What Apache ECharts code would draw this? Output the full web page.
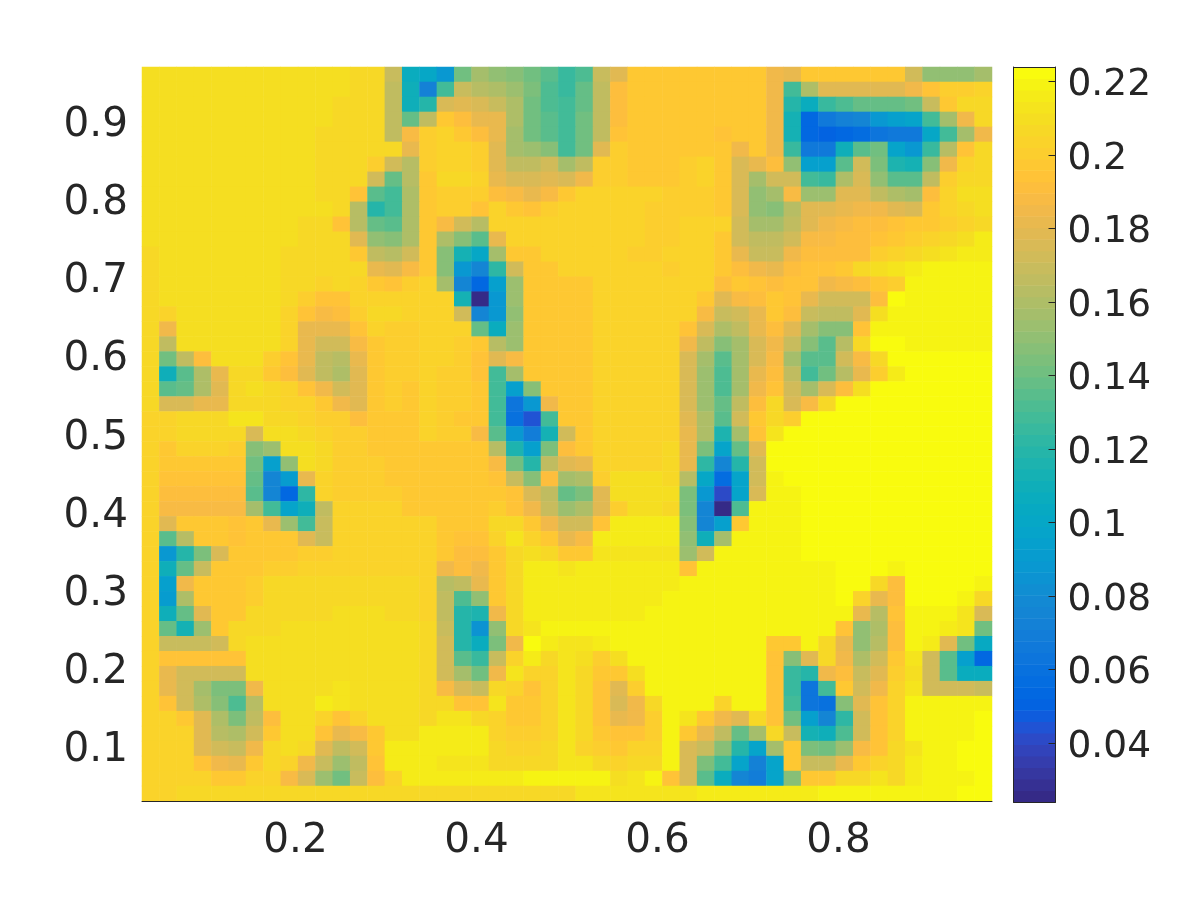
<!DOCTYPE html>
<html><head><meta charset="utf-8">
<style>html,body{margin:0;padding:0;background:#fff}#c{width:1200px;height:900px}</style>
<script src="https://cdn.jsdelivr.net/npm/echarts@6/dist/echarts.min.js"></script>
</head><body><div id="c"></div>
<script>
const xTicks=[0.2,0.4,0.6,0.8];
const yTicks=[0.1,0.2,0.3,0.4,0.5,0.6,0.7,0.8,0.9];
const barTicks=[0.04,0.06,0.08,0.1,0.12,0.14,0.16,0.18,0.2,0.22];
const extent=[0.0304,0.9696];
const colorRange=[0.024,0.224];
const parula=[[.2081,.1663,.5292],[.2116,.1898,.5777],[.2123,.2138,.627],[.2081,.2386,.6771],[.1959,.2645,.7279],[.1707,.2919,.7792],[.1253,.3242,.8303],[.0591,.3598,.8683],[.0117,.3875,.882],[.006,.4086,.8828],[.0165,.4266,.8786],[.0329,.443,.872],[.0498,.4586,.8641],[.0629,.4737,.8554],[.0723,.4887,.8467],[.0779,.504,.8384],[.0793,.52,.8312],[.0749,.5375,.8263],[.0641,.557,.824],[.0488,.5772,.8228],[.0343,.5966,.8199],[.0265,.6137,.8135],[.0239,.6287,.8038],[.0231,.6418,.7913],[.0228,.6535,.7768],[.0267,.6642,.7607],[.0384,.6743,.7436],[.059,.6838,.7254],[.0843,.6928,.7062],[.1133,.7015,.6859],[.1453,.7098,.6646],[.1801,.7177,.6424],[.2178,.725,.6193],[.2586,.7317,.5954],[.3022,.7376,.5712],[.3482,.7424,.5473],[.3953,.7459,.5244],[.442,.7481,.5033],[.4871,.7491,.484],[.53,.7491,.4661],[.5709,.7485,.4494],[.6099,.7473,.4337],[.6473,.7456,.4188],[.6834,.7435,.4044],[.7184,.7411,.3905],[.7525,.7384,.3768],[.7858,.7356,.3633],[.8185,.7327,.3498],[.8507,.7299,.336],[.8824,.7274,.3217],[.9139,.7258,.3063],[.945,.7261,.2886],[.9739,.7314,.2666],[.9938,.7455,.2403],[.999,.7653,.2164],[.9955,.7861,.1967],[.988,.8066,.1794],[.9789,.8271,.1633],[.9697,.8481,.1475],[.9626,.8705,.1309],[.9589,.8949,.1132],[.9598,.9218,.0948],[.9661,.9514,.0755],[.9763,.9831,.0538]];
// cell values in thousandths, top row first, 49 columns
const rows=[
[210,210,210,210,210,210,210,210,210,210,210,210,207,207,168,107,100,88,141,157,151,147,141,135,126,132,168,179,196,196,196,196,197,197,197,197,185,182,198,198,198,198,198,198,172,151,151,151,157],
[210,210,210,210,210,210,210,210,210,210,210,210,207,207,166,110,72,129,169,163,160,154,144,132,126,138,166,191,197,197,197,197,197,197,197,197,185,129,160,179,179,179,179,179,185,194,201,201,204],
[210,210,210,210,210,210,210,210,210,210,210,207,207,207,166,110,119,176,179,176,169,160,141,132,129,138,166,191,197,197,197,197,197,197,197,197,185,119,107,126,132,138,138,138,141,169,198,207,207],
[210,210,210,210,210,210,210,210,210,210,210,207,207,207,166,138,166,196,191,182,182,160,141,135,129,141,166,191,197,197,197,197,197,197,197,197,185,113,54,66,72,76,88,94,97,129,157,185,207],
[210,210,210,210,210,210,210,210,210,210,207,207,207,207,166,188,201,204,198,191,182,157,141,135,129,141,166,194,197,197,197,197,197,194,197,197,185,113,54,50,54,57,63,66,66,100,129,157,185],
[210,210,210,210,210,210,210,210,210,210,207,207,207,207,207,182,201,205,205,201,179,157,154,147,129,141,179,201,197,197,197,197,197,197,185,197,185,126,66,66,110,135,141,97,88,126,163,194,207],
[210,210,210,210,210,210,210,210,210,210,207,207,207,201,172,163,201,205,205,201,179,166,166,172,157,166,201,201,197,197,197,201,204,197,176,182,191,151,94,94,135,172,144,116,113,147,185,204,207],
[210,210,210,210,210,210,210,210,210,210,207,207,207,172,138,163,197,207,207,204,182,176,176,179,176,185,201,201,197,197,197,201,204,197,176,157,173,173,129,126,160,176,151,135,135,166,201,207,207],
[210,210,210,210,210,210,210,210,210,210,207,207,194,135,129,160,197,201,201,201,191,188,182,188,197,204,204,204,204,204,201,201,201,197,176,151,157,188,154,154,179,179,166,160,157,191,204,210,210],
[210,210,210,210,210,210,210,210,210,210,210,207,163,119,129,160,197,201,201,194,204,197,194,201,204,204,204,204,204,201,201,201,201,197,176,151,147,163,179,179,182,185,185,179,176,197,204,207,210],
[210,210,210,210,210,210,210,210,210,207,207,194,163,138,135,160,197,188,173,163,204,204,204,204,204,204,204,204,204,201,201,204,204,204,173,157,157,166,179,185,188,191,191,194,197,197,201,204,207],
[210,210,210,210,210,210,210,210,210,207,207,207,179,151,147,160,197,160,147,135,182,204,204,204,204,204,204,204,204,201,201,204,204,197,173,166,166,173,188,188,191,191,194,197,201,204,207,210,216],
[207,210,210,210,210,210,210,210,207,207,207,207,197,166,163,173,197,147,113,100,157,197,197,204,204,204,204,204,201,201,204,204,204,197,182,169,169,185,191,191,191,191,201,204,207,210,213,216,216],
[207,210,210,210,210,210,210,210,207,207,207,207,207,182,179,188,197,147,88,76,122,173,197,197,204,204,204,204,204,204,201,204,204,197,191,185,182,191,194,194,197,207,210,213,216,219,219,219,219],
[207,210,210,210,210,210,210,210,207,207,204,207,204,197,194,201,204,157,76,54,94,154,197,197,197,197,204,204,204,204,204,204,204,191,197,194,191,194,194,185,188,191,197,201,219,219,219,219,219],
[207,210,210,210,210,210,210,210,207,201,194,194,204,204,204,204,204,204,113,26,88,154,197,197,197,197,204,204,204,204,204,204,197,179,188,191,197,194,182,173,173,173,191,223,219,219,219,219,219],
[207,204,210,210,210,210,210,210,204,194,188,191,201,207,207,204,204,204,173,76,88,151,197,197,197,197,204,204,204,204,204,204,188,169,173,182,197,191,169,166,166,179,210,219,219,219,219,219,219],
[207,185,210,210,210,210,210,210,204,182,182,182,194,204,201,201,204,204,204,138,107,154,197,197,197,197,204,204,204,204,204,194,176,160,166,182,191,179,157,147,147,194,219,219,219,219,219,219,219],
[207,166,210,210,210,210,210,210,204,182,172,172,188,197,201,201,204,204,201,197,163,154,197,197,197,197,204,204,204,204,204,185,166,147,157,176,185,169,147,135,163,207,223,223,219,219,219,219,219],
[207,141,166,191,210,210,210,201,194,182,166,163,182,197,201,201,204,204,201,194,179,188,197,197,197,197,204,204,204,204,204,176,157,135,157,176,188,157,135,135,172,188,207,223,223,223,223,223,223],
[207,110,135,160,182,207,207,197,191,179,166,160,179,197,201,201,204,201,201,194,129,157,197,197,197,197,204,204,204,204,204,176,154,132,157,182,191,166,129,141,163,182,201,216,223,223,223,223,223],
[207,135,138,160,179,207,210,207,204,194,185,172,179,197,201,197,204,201,201,197,129,94,147,197,197,197,204,204,204,204,204,176,154,132,157,185,194,172,157,176,191,210,223,223,223,223,223,223,223],
[207,176,176,182,182,207,207,207,204,204,197,185,179,197,201,197,204,201,201,197,129,63,88,185,197,197,204,204,204,204,204,176,154,138,166,191,207,176,188,207,223,223,223,223,223,223,223,223,223],
[204,204,207,207,207,213,213,207,207,204,201,201,191,197,197,197,204,201,197,197,129,60,44,129,197,197,204,204,204,204,204,179,160,135,172,197,207,201,223,223,223,223,223,223,223,223,223,223,223],
[204,204,207,207,207,207,176,210,210,207,204,201,201,197,197,197,204,201,201,188,135,88,69,113,172,197,204,204,204,204,204,182,160,116,157,194,213,223,223,223,223,223,223,223,223,223,223,223,223],
[204,197,204,204,204,201,147,154,210,210,207,201,201,197,197,197,197,197,197,197,163,116,94,144,191,197,204,204,204,204,207,182,144,97,138,179,223,223,223,223,223,223,223,223,223,223,223,223,223],
[204,197,197,197,197,197,141,94,151,210,207,201,201,201,197,197,197,197,197,197,188,141,119,166,179,182,204,204,204,204,207,182,122,76,119,172,223,223,223,223,223,223,223,223,223,223,223,223,223],
[204,194,194,194,194,194,138,76,91,182,204,201,201,201,197,197,197,197,197,197,194,169,147,191,157,160,201,210,210,210,207,163,101,57,97,172,219,223,223,223,223,223,223,223,223,223,223,223,223],
[204,191,191,191,191,191,135,76,54,122,204,201,201,201,201,197,197,197,197,197,197,194,176,166,138,144,179,210,210,210,210,144,88,41,97,176,219,219,223,223,223,223,223,223,223,223,223,223,223],
[204,188,188,188,188,188,157,129,97,110,166,204,204,204,204,197,197,197,197,197,201,194,185,169,154,160,179,201,210,210,207,144,76,26,132,219,219,219,223,223,223,223,223,223,223,223,223,223,223],
[204,179,197,197,197,194,197,182,154,129,169,204,204,204,204,204,204,197,197,197,207,207,197,185,172,173,194,216,216,216,216,147,76,94,197,219,219,219,223,223,223,223,223,223,223,223,223,223,223],
[204,135,163,197,197,194,197,197,197,179,169,204,204,204,204,204,204,197,194,194,204,213,204,197,182,188,216,216,216,216,216,151,110,157,219,219,219,219,223,223,223,223,223,223,223,223,223,223,223],
[204,88,119,144,176,197,197,197,197,201,201,204,204,204,204,204,204,197,191,191,197,207,210,207,197,197,213,213,213,213,213,154,173,219,219,219,219,219,223,223,223,223,223,223,223,223,223,223,223],
[204,110,138,169,197,197,197,201,201,204,204,204,204,204,204,204,204,185,191,185,197,207,216,216,213,216,216,216,216,216,216,194,219,219,219,219,219,219,219,219,223,223,223,219,223,223,223,223,223],
[204,94,185,197,197,197,201,207,207,207,207,207,207,207,207,207,204,163,166,182,197,207,216,216,216,216,216,216,216,216,216,219,219,219,219,219,219,219,219,219,223,223,207,191,223,223,223,223,219],
[204,91,160,197,197,197,201,207,207,207,207,207,207,207,207,207,204,166,132,151,197,207,216,216,216,216,216,216,216,216,219,219,219,219,219,219,219,219,219,219,223,204,182,191,223,223,223,219,207],
[204,110,138,179,197,197,207,207,207,207,207,210,210,210,207,207,204,166,119,116,185,207,216,216,216,216,216,216,216,219,219,219,219,219,219,219,219,219,219,219,219,182,163,194,219,219,219,213,176],
[204,138,113,154,197,207,207,207,210,210,210,210,210,210,210,210,207,169,119,85,151,207,213,219,219,219,219,219,219,219,219,219,219,219,219,219,219,219,219,219,194,151,160,191,219,219,216,213,141],
[204,169,169,169,173,207,210,210,210,210,210,210,210,210,210,210,207,172,119,107,144,185,222,216,213,213,216,219,219,219,219,219,219,219,219,219,197,197,219,207,182,151,163,191,219,216,179,141,104],
[204,194,194,194,194,194,210,210,210,210,210,210,210,210,210,210,207,172,135,126,169,204,216,207,213,210,201,210,219,219,219,219,219,219,219,219,194,147,179,207,185,160,172,197,213,173,135,94,54],
[204,182,172,172,172,172,210,210,210,210,210,210,210,210,210,210,207,173,157,141,185,213,204,204,213,207,197,197,210,219,219,219,219,219,219,219,194,126,119,185,191,169,179,201,210,173,135,107,107],
[204,182,172,157,144,144,185,210,210,210,210,213,210,210,210,210,207,188,176,169,207,204,194,204,213,207,194,179,201,219,219,219,219,219,219,219,194,126,63,129,197,172,185,204,213,173,173,173,169],
[204,194,173,160,147,132,163,210,210,210,216,213,210,210,210,210,207,207,194,194,213,197,197,204,213,207,194,176,185,207,219,219,219,204,219,219,194,129,63,60,147,179,194,204,219,219,219,219,219],
[204,204,197,179,160,144,166,191,210,210,204,194,204,210,210,210,207,213,213,207,204,197,197,204,213,207,194,182,185,201,219,213,197,185,179,207,194,141,94,76,122,172,194,204,219,219,219,219,222],
[204,204,204,179,163,160,173,197,210,210,194,182,188,197,210,210,216,216,216,216,204,201,201,204,213,207,197,194,194,201,219,197,182,166,138,157,207,169,113,110,132,173,194,204,219,219,219,219,222],
[204,204,204,179,173,169,185,207,210,207,179,166,173,197,216,216,216,216,216,216,207,204,204,207,213,204,201,197,204,204,219,176,169,147,119,97,157,197,144,141,154,188,194,207,213,219,219,222,222],
[204,204,204,194,185,182,197,207,204,185,169,154,166,194,216,216,216,213,213,213,207,207,207,207,213,213,207,204,207,207,219,176,144,129,97,72,97,197,169,169,182,197,204,207,216,219,219,222,222],
[204,204,204,204,197,197,204,204,188,176,154,141,169,191,204,216,216,216,216,216,216,216,219,219,219,219,219,210,213,219,194,176,135,107,76,69,97,147,197,197,207,207,213,207,216,219,219,219,222],
[204,204,207,207,207,207,207,207,207,207,207,207,207,207,207,207,207,207,207,207,207,207,207,207,207,213,213,213,213,213,213,213,216,216,216,216,216,216,216,219,219,219,219,219,219,219,219,222,222]
];
const palette=parula.map(c=>'rgb('+c.map(v=>Math.round(v*255)).join(',')+')');
const n=rows.length;
const step=(colorRange[1]-colorRange[0])/palette.length;
const cells=[];
rows.forEach((r,i)=>r.forEach((v,j)=>cells.push([j,n-1-i,v/1000])));
const pieces=palette.map((color,i)=>({gte:colorRange[0]+i*step-(i===0?1:0),lt:colorRange[0]+(i+1)*step+(i===palette.length-1?1:0),color}));
const idx=a=>a.map((_,i)=>String(i));
const ink='#262626';
const font={color:ink,fontSize:40.5,fontFamily:'"DejaVu Sans"'};
const barFont={color:ink,fontSize:37.5,fontFamily:'"DejaVu Sans"'};
const fmt=v=>String(+v.toFixed(2));
const line={show:true,onZero:false,lineStyle:{color:ink,width:1}};
const chart=echarts.init(document.getElementById('c'),null,{renderer:'canvas'});
chart.setOption({
  animation:false,backgroundColor:'#fff',
  grid:[{left:142,top:67,width:850,height:734},{left:1013.5,top:67,width:42,height:735}],
  visualMap:{show:false,type:'piecewise',seriesIndex:0,dimension:2,pieces},
  xAxis:[
    {type:'category',gridIndex:0,show:false,data:idx(rows[0])},
    {type:'value',gridIndex:0,min:extent[0],max:extent[1],position:'bottom',z:10,splitLine:{show:false},
     axisLine:line,axisTick:{show:false},
     axisLabel:{...font,margin:20,formatter:fmt,customValues:xTicks}},
    {type:'value',gridIndex:1,min:0,max:1,position:'bottom',z:10,splitLine:{show:false},axisLabel:{show:false},axisTick:{show:false},axisLine:line},
    {type:'value',gridIndex:1,min:0,max:1,position:'top',z:10,splitLine:{show:false},axisLabel:{show:false},axisTick:{show:false},axisLine:line}
  ],
  yAxis:[
    {type:'category',gridIndex:0,show:false,data:idx(rows)},
    {type:'value',gridIndex:0,min:extent[0],max:extent[1],position:'left',splitLine:{show:false},
     axisLine:{show:false,onZero:false},axisTick:{show:false},
     axisLabel:{...font,margin:14,verticalAlign:'top',lineHeight:8,formatter:fmt,customValues:yTicks}},
    {type:'value',gridIndex:1,min:colorRange[0],max:colorRange[1],position:'right',z:10,splitLine:{show:false},
     axisLine:line,
     axisTick:{show:true,inside:true,length:7,lineStyle:{color:ink,width:1},customValues:barTicks},
     axisLabel:{...barFont,margin:12,verticalAlign:'top',lineHeight:8,formatter:fmt,customValues:barTicks}},
    {type:'value',gridIndex:1,min:colorRange[0],max:colorRange[1],position:'left',z:10,splitLine:{show:false},
     axisLine:line,axisTick:{show:false},axisLabel:{show:false}}
  ],
  series:[
    {type:'heatmap',xAxisIndex:0,yAxisIndex:0,data:cells,progressive:0,silent:true,itemStyle:{borderWidth:0},emphasis:{disabled:true}},
    {type:'custom',xAxisIndex:2,yAxisIndex:2,silent:true,clip:true,data:palette.map((_,i)=>[i]),
     renderItem:(p,api)=>{
       const i=api.value(0);
       const a=api.coord([0,colorRange[0]+i*step]), b=api.coord([1,colorRange[0]+(i+1)*step]);
       return {type:'rect',shape:{x:a[0],y:b[1],width:b[0]-a[0],height:a[1]-b[1]+0.5},style:{fill:palette[i]}};
     }}
  ]
});
</script></body></html>
